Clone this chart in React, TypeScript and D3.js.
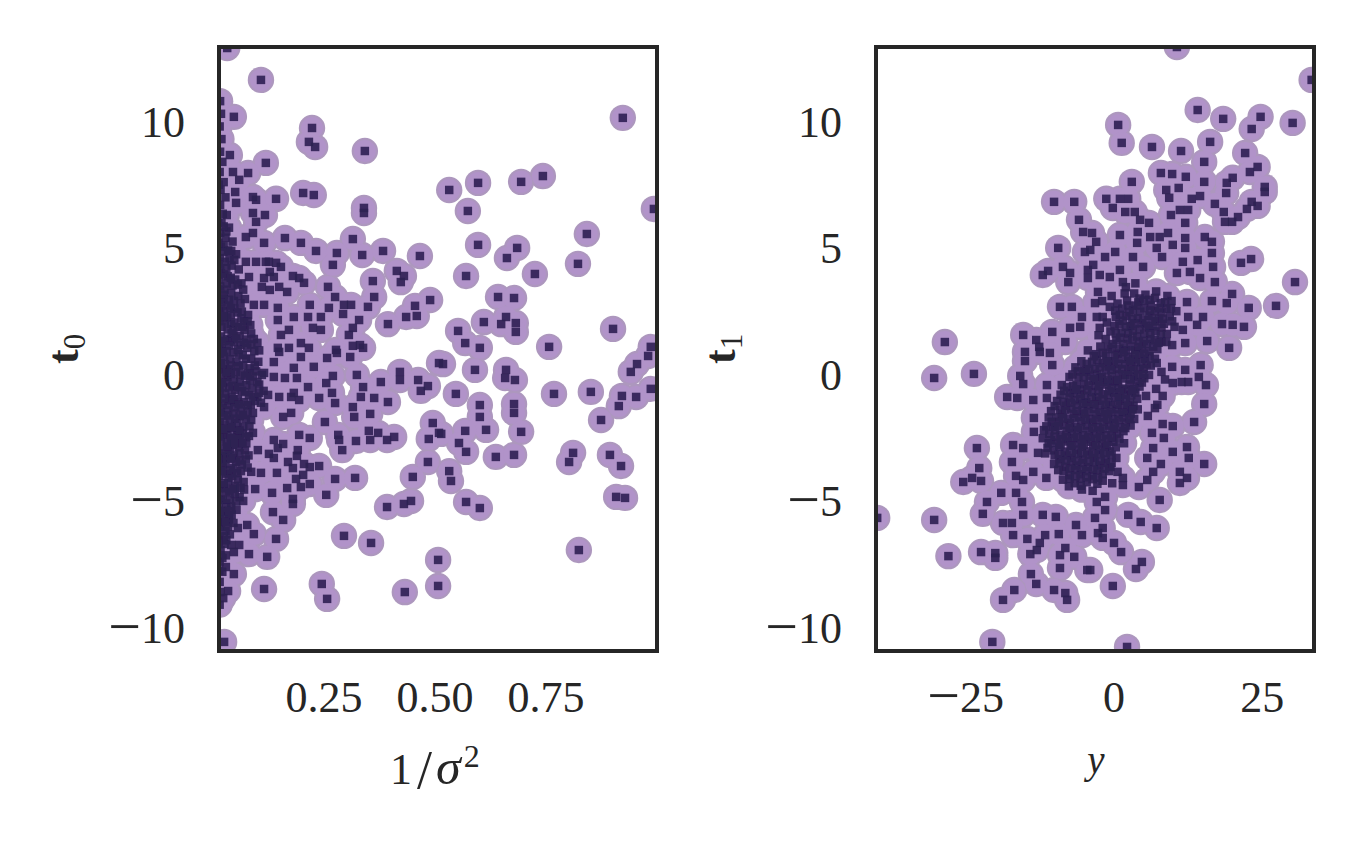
import React from 'react'
import * as d3 from 'd3'

const width = 1361
const height = 841

// left panel, 1/sigma^2 against t0, points that can be read one by one
const precisionUpper: [number, number][] = [
  [.032, 13.0], [.108, 11.74], [.047, 10.28], [.223, 9.84], [.216, 9.29], [.23, 9.09], [.342, 8.93], [.038, 8.77], [.119, 8.46], [.045, 8.1],
  [.059, 7.79], [.079, 8.06], [.05, 7.31], [.052, 6.88], [.09, 7.11], [.097, 7.0], [.142, 7.04], [.203, 7.27], [.227, 7.19], [.34, 6.68],
  [.34, 6.48], [.09, 6.48], [.117, 6.4], [.097, 6.13], [.09, 5.69], [.074, 5.53], [.115, 5.3], [.162, 5.49], [.198, 5.3], [.232, 4.98],
  [.279, 4.9], [.27, 4.43], [.315, 5.45], [.336, 4.82], [.383, 4.98], [.466, 4.78], [.414, 4.19], [.43, 3.99], [.423, 3.75], [.36, 3.79],
  [.363, 3.16], [.259, 3.56], [.275, 3.16], [.489, 3.04], [.455, 2.81], [.435, 2.37], [.459, 2.41], [.394, 2.09], [.349, 2.77], [.295, 2.85],
  [.311, 2.85], [.261, 2.73], [.293, 2.49], [.243, 2.37], [.218, 2.85], [.214, 2.37], [.182, 2.37], [.146, 2.73], [.146, 2.25], [.115, 2.85],
  [.092, 2.85], [.074, 4.55], [.097, 4.55], [.119, 4.55], [.126, 4.55], [.142, 4.51], [.153, 4.35], [.081, 3.95], [.128, 4.15], [.115, 3.91],
  [.137, 3.95], [.18, 3.99], [.194, 3.91], [.205, 3.72], [.11, 3.56], [.128, 3.44], [.149, 3.56], [.167, 3.36], [.329, 2.25], [.315, 1.94],
  [.306, 1.66], [.243, 1.86], [.225, 1.94], [.171, 1.86], [.153, 1.66], [.198, 1.34], [.331, 1.26], [.315, 1.23], [.277, 1.07], [.216, 1.15],
  [.146, 1.15], [.171, 1.15],
]

const precisionMiddle: [number, number][] = [
  [.198, .79], [.257, .75], [.279, .95], [.309, .79], [.338, 1.15], [.115, .16], [.137, 0], [.137, .59], [.149, .99], [.182, .36],
  [.189, -.04], [.162, -.04], [.227, .4], [.27, .04], [.324, .08], [.255, -.24], [.214, -.4], [.268, -.63], [.378, -.2], [.421, .2],
  [.421, -.12], [.462, -.12], [.484, -.36], [.468, -.55], [.509, .55], [.338, -.4], [.333, -.79], [.363, -.83], [.394, -.99], [.315, -1.19],
  [.318, -1.58], [.354, -1.46], [.275, -1.03], [.239, -.83], [.104, -.63], [.124, -.71], [.149, -.79], [.176, -.79], [.194, -.91], [.182, -.63],
  [.115, -1.19], [.09, -1.42], [.176, -1.42], [.158, -1.58], [.252, -1.78], [.495, -1.82], [.509, -2.21], [.486, -2.45], [.351, -2.13], [.372, -2.21],
  [.354, -2.49], [.392, -2.49], [.408, -2.37], [.322, -2.53], [.282, -2.29], [.284, -2.49], [.291, -2.89], [.194, -2.29], [.218, -2.41], [.09, -2.21],
  [.137, -2.49], [.158, -2.65], [.146, -2.81], [.191, -2.89], [.189, -3.12], [.101, -2.89], [.126, -3.04], [.137, -3.2], [.169, -3.36], [.18, -3.6],
  [.205, -3.44], [.218, -3.56], [.239, -3.52], [.275, -4.03], [.32, -3.99], [.484, -3.36], [.45, -3.95], [.203, -3.87], [.187, -4.03], [.218, -4.23],
  [.198, -4.35], [.167, -4.39], [.144, -3.79], [.108, -3.79], [.086, -3.75], [.095, -4.43], [.133, -4.58], [.255, -4.66], [.18, -4.82], [.18, -5.02],
  [.068, -4.9], [.135, -5.34], [.158, -5.65], [.392, -5.14], [.43, -5.02], [.446, -4.9], [.077, -5.85], [.056, -5.97], [.092, -6.21], [.142, -6.4],
  [.059, -6.64], [.041, -6.64], [.081, -7.0], [.122, -7.11], [.047, -6.92], [.295, -6.28], [.356, -6.56], [.507, -7.23], [.507, -8.26], [.245, -8.18],
  [.257, -8.77], [.432, -8.5], [.115, -8.38], [.047, -7.79], [.034, -8.46], [.029, -7.51], [.023, -8.74], [.025, -10.47],
]

const precisionRight: [number, number][] = [
  [.923, 10.24], [.743, 7.94], [.694, 7.71], [.597, 7.67], [.532, 7.39], [.574, 6.56], [.993, 6.64], [.842, 5.65], [.597, 5.22], [.685, 5.1],
  [.662, 4.7], [.822, 4.47], [.725, 4.07], [.57, 3.99], [.642, 3.16], [.678, 3.12], [.61, 2.17], [.66, 2.37], [.649, 2.09], [.682, 2.13],
  [.682, 1.78], [.901, 1.9], [.552, 1.82], [.568, 1.34], [.601, 1.15], [.757, 1.19], [.986, 1.19], [.518, .51], [.59, .28], [.66, .28],
  [.658, -.04], [.68, -.12], [.768, -.67], [.851, -.59], [.547, -.67], [.601, -1.11], [.601, -1.58], [.678, -1.07], [.678, -1.42], [.694, -2.17],
  [.615, -2.09], [.568, -2.13], [.514, -2.25], [.554, -2.61], [.57, -2.96], [.637, -3.16], [.678, -3.08], [.532, -3.72], [.536, -4.11], [.57, -4.94],
  [.601, -5.18], [.811, -3.0], [.802, -3.36], [.894, -3.08], [.919, -3.52], [.908, -4.74], [.928, -4.78], [.824, -6.84], [.874, -1.7], [.914, -1.15],
  [.921, -.75], [.953, -.79], [.986, -.47], [.941, .2], [.955, .51], [.98, .83],
]

// the dark band against the left spine, estimated
const precisionBand: [number, number][] = [
  [.016, 10.9], [.018, 10.4], [.015, 9.9], [.019, 9.4], [.016, 8.9], [.021, 8.5], [.015, 8.1], [.024, 7.7], [.017, 7.4], [.028, 7.1],
  [.016, 6.8], [.031, 6.4], [.019, 6.1], [.036, 5.9], [.016, 5.7], [.028, 5.5], [.044, 5.35], [.018, 5.15], [.034, 5.0], [.052, 4.85],
  [.016, 4.7], [.027, 4.55], [.042, 4.4], [.058, 4.25], [.018, 4.1], [.033, 3.98], [.05, 3.85], [.064, 3.7], [.016, 3.58], [.026, 3.45],
  [.041, 3.32], [.057, 3.2], [.072, 3.08], [.019, 2.95], [.033, 2.82], [.048, 2.7], [.065, 2.58], [.079, 2.45], [.015, 2.32], [.027, 2.2],
  [.04, 2.1], [.056, 1.98], [.071, 1.85], [.086, 1.72], [.018, 1.6], [.032, 1.5], [.047, 1.38], [.062, 1.26], [.077, 1.15], [.093, 1.02],
  [.015, .92], [.025, .8], [.039, .7], [.053, .58], [.068, .46], [.083, .34], [.097, .22], [.019, .12], [.033, 0], [.047, -.1],
  [.061, -.2], [.075, -.32], [.089, -.44], [.104, -.3], [.015, -.55], [.028, -.65], [.042, -.77], [.056, -.88], [.07, -.99], [.085, -1.1],
  [.018, -1.22], [.032, -1.32], [.046, -1.44], [.06, -1.55], [.074, -1.66], [.015, -1.78], [.026, -1.88], [.04, -2.0], [.053, -2.1], [.067, -2.22],
  [.081, -2.33], [.018, -2.45], [.031, -2.56], [.045, -2.68], [.058, -2.78], [.072, -2.9], [.015, -3.02], [.026, -3.12], [.039, -3.24], [.052, -3.35],
  [.065, -3.46], [.078, -3.58], [.018, -3.7], [.03, -3.82], [.043, -3.92], [.056, -4.05], [.069, -4.15], [.015, -4.28], [.025, -4.4], [.037, -4.52],
  [.049, -4.63], [.06, -4.75], [.018, -4.86], [.03, -5.0], [.041, -5.12], [.053, -5.25], [.015, -5.38], [.025, -5.5], [.036, -5.63], [.046, -5.77],
  [.017, -5.92], [.028, -6.08], [.038, -6.22], [.015, -6.42], [.026, -6.6], [.017, -6.85], [.029, -7.05], [.015, -7.3], [.021, -7.7], [.015, -8.1],
  [.017, -8.5], [.015, -9.0], [.016, 4.25], [.024, 3.1], [.02, 1.15], [.013, .4], [.024, .3], [.036, -.42], [.022, -1.05], [.035, -1.1],
  [.024, -2.25], [.034, -3.0], [.022, -3.45], [.034, -4.2], [.022, -4.85], [.02, -5.7], [.047, 3.0], [.04, 1.45], [.058, .9], [.072, .05],
  [.048, -1.0], [.06, -2.45], [.047, -3.1], [.03, 5.75], [.022, 6.45], [.013, 7.6], [.024, 2.6], [.014, 1.3], [.03, -.2], [.014, -2.1],
]

const precisionBandExtra: [number, number][] = [
  [.024, 5.2], [.037, 4.7], [.025, 4.05], [.044, 3.62], [.031, 3.7], [.056, 3.65], [.013, 3.05], [.04, 2.72], [.055, 2.55], [.032, 2.35],
  [.07, 2.2], [.048, 2.15], [.084, 2.05], [.019, 1.98], [.033, 1.88], [.06, 1.62], [.075, 1.48], [.1, 1.35], [.046, .98], [.031, 1.02],
  [.067, .86], [.086, .72], [.102, .6], [.018, .55], [.052, .2], [.036, .3], [.078, .15], [.11, .08], [.013, -.2], [.065, -.55],
  [.049, -.52], [.022, -.4], [.081, -.72], [.1, -.78], [.114, -.55], [.036, -.92], [.063, -1.22], [.05, -1.2], [.078, -1.36], [.094, -.95],
  [.024, -1.55], [.038, -1.68], [.086, -1.7], [.055, -1.82], [.015, -2.35], [.068, -1.98], [.033, -2.28], [.049, -2.4], [.075, -2.62], [.02, -2.78],
  [.038, -2.85], [.06, -3.02], [.08, -3.1], [.028, -3.45], [.046, -3.6], [.063, -3.72], [.014, -3.9], [.035, -3.98], [.05, -4.3], [.024, -4.2],
  [.07, -4.45], [.038, -4.85], [.052, -4.92], [.013, -5.1], [.028, -5.3], [.042, -5.45], [.018, -5.85], [.034, -5.92], [.024, -6.3], [.013, -6.6],
  [.021, -7.15], [.014, -7.65], [.016, 2.7], [.042, 1.72], [.027, .5], [.04, .12], [.011, -.9], [.03, -2.05], [.056, -2.3], [.02, -3.2],
]

const precisionBandFill: [number, number][] = [
  [.023, 4.95], [.041, 4.98], [.03, 4.3], [.048, 4.62], [.013, 3.85], [.04, 3.92], [.068, 3.45], [.023, 3.25], [.036, 3.05], [.062, 2.9],
  [.012, 2.6], [.04, 2.45], [.064, 2.32], [.024, 2.4], [.078, 2.2], [.046, 1.82], [.066, 1.98], [.052, 1.52], [.092, 1.5], [.026, 1.42],
  [.07, 1.35], [.036, 1.25], [.086, 1.28], [.056, 1.08], [.104, 1.05], [.022, .98], [.074, .72], [.04, .45], [.058, .42], [.094, .45],
  [.03, .18], [.062, .1], [.09, .02], [.02, -.22], [.044, -.35], [.056, -.4], [.083, -.12], [.1, -.2], [.072, -.6], [.09, -.78],
  [.026, -.85], [.046, -.88], [.108, -1.02], [.058, -1.08], [.078, -1.12], [.034, -1.52], [.016, -1.4], [.05, -1.65], [.067, -1.5], [.082, -1.95],
  [.042, -1.98], [.06, -2.12], [.022, -2.05], [.074, -2.38], [.04, -2.42], [.032, -2.75], [.05, -2.62], [.066, -2.62], [.012, -3.25], [.044, -3.2],
  [.06, -3.3], [.074, -3.26], [.022, -3.72], [.04, -3.68], [.054, -3.8], [.012, -4.55], [.03, -4.55], [.046, -4.42], [.062, -4.38], [.02, -5.3],
  [.036, -5.3], [.012, -5.75], [.028, -5.72], [.01, -6.25], [.03, -6.45], [.01, -7.05], [.011, 6.1], [.024, 5.95], [.012, 5.3], [.013, 4.45],
]

// right panel, y against t1
const targetUpper: [number, number][] = [
  [-10.1, 6.92], [-6.7, 6.92], [-5.9, 6.21], [-5.2, 5.73], [-3.7, 5.69], [-3.0, 5.34], [-9.4, 5.1], [-4.9, 4.94], [-4.0, 5.02], [-11.1, 4.19],
  [-12.0, 4.03], [-8.6, 4.35], [-7.4, 4.11], [-7.7, 3.75], [-4.4, 4.23], [-4.4, 3.91], [-9.1, 2.77], [-7.1, 2.77], [-5.4, 2.37], [-15.3, 1.66],
  [-13.1, 1.46], [-10.4, 1.78], [-12.6, 1.19], [-28.5, 1.38], [-7.4, 1.94], [-5.7, 1.98], [-8.2, 1.38], [-3.2, 2.92], [-2.9, 2.37], [10.6, 13.04],
  [33.3, 11.74], [14.1, 10.55], [18.4, 10.2], [24.7, 10.28], [23.2, 9.8], [30.1, 10.04], [.7, 9.96], [1.3, 9.25], [6.4, 9.09], [11.3, 8.93],
  [16.2, 9.29], [15.2, 8.5], [22.1, 8.85], [24.2, 8.3], [22.9, 8.1], [7.9, 8.06], [9.8, 8.02], [12.1, 7.91], [15.2, 7.71], [3.0, 7.71],
  [10.9, 7.47], [8.8, 7.39], [9.3, 7.08], [20.0, 7.87], [19.0, 7.67], [18.9, 7.27], [25.4, 7.51], [25.4, 7.31], [14.5, 7.15], [13.1, 7.04],
  [17.0, 6.84], [23.2, 6.92], [24.2, 6.76], [22.4, 6.64], [18.5, 6.52], [20.9, 6.32], [18.7, 6.13], [19.9, 6.13], [-1.3, 7.04], [1.0, 7.04],
  [2.4, 7.04], [-.2, 6.68], [1.9, 6.52], [3.5, 6.52], [4.4, 6.21], [5.9, 6.09], [9.6, 6.4], [11.1, 6.6], [12.5, 6.6], [12.0, 6.09],
  [1.0, 5.61], [4.0, 5.73], [6.1, 5.53], [9.1, 5.69], [7.7, 5.53], [12.0, 5.49], [15.3, 5.53], [16.5, 5.34], [9.9, 5.22], [12.0, 5.1],
  [7.2, 5.1], [3.9, 5.3], [.2, 4.94], [-1.5, 4.74], [3.2, 4.74], [8.1, 4.74], [16.5, 4.9], [14.1, 4.62], [11.6, 4.55], [16.7, 4.35],
  [21.4, 4.51], [23.1, 4.66], [-3.5, 4.43], [1.0, 4.23], [4.9, 4.35], [10.6, 4.11], [12.8, 4.15], [14.5, 3.91], [17.0, 3.75], [-2.4, 4.03],
  [-.7, 3.95], [-2.7, 3.36], [1.5, 3.75], [30.5, 3.75], [19.9, 3.28], [19.0, 2.92], [16.5, 3.0], [22.7, 2.73], [27.3, 2.81], [12.3, 2.96],
  [15.0, 2.37], [18.2, 2.09], [20.0, 2.06], [21.9, 1.98], [15.7, 1.42], [19.4, 1.15], [12.5, 2.37], [14.0, 2.06], [11.6, 1.86], [9.8, 1.26],
  [12.0, 1.34], [-.7, 2.77], [-1.9, 2.37], [-2.4, 1.94],
]

const targetLower: [number, number][] = [
  [7.2, .55], [12.0, .28], [14.6, .47], [9.8, .4], [14.3, 0], [15.5, -.32], [9.9, -.24], [11.4, -.2], [12.5, -.2], [7.1, -.47],
  [8.2, -.75], [5.4, -.75], [15.2, -1.07], [6.9, -1.23], [5.7, -1.54], [13.5, -1.78], [8.2, -1.86], [9.9, -1.94], [6.4, -2.21], [8.4, -2.41],
  [6.6, -2.81], [9.9, -2.96], [12.3, -2.77], [12.6, -3.2], [15.2, -3.44], [5.6, -3.2], [7.9, -3.44], [6.6, -3.75], [5.6, -4.07], [11.1, -3.75],
  [12.3, -3.99], [11.1, -4.19], [4.2, -4.35], [1.5, -4.27], [1.5, -3.99], [7.7, -4.86], [-1.5, -4.74], [-1.5, -5.26], [2.4, -5.45], [4.5, -5.73],
  [7.2, -5.97], [-1.9, -5.97], [-1.9, -6.36], [0, -6.56], [1.2, -6.92], [4.7, -7.31], [3.7, -7.59], [-.2, -8.26], [2.2, -10.67], [-4.0, -7.63],
  [-3.2, -5.57], [-2.9, -4.94], [-30.3, -.04], [-23.6, .12], [-15.0, .99], [-15.0, .63], [-15.8, .04], [-15.3, -.28], [-18.0, -.79], [-16.3, -.83],
  [-13.6, -.91], [-12.5, .99], [-10.8, .95], [-10.4, .47], [-8.8, -.32], [-11.3, -.32], [-11.3, -.83], [-13.5, -1.62], [-13.5, -2.17], [-17.0, -2.69],
  [-15.3, -2.81], [-12.8, -3.0], [-23.1, -2.81], [-17.2, -3.36], [-22.7, -3.6], [-25.4, -4.15], [-23.9, -3.99], [-22.4, -4.11], [-16.5, -3.91], [-15.3, -4.07],
  [-13.6, -3.75], [-11.4, -3.99], [-19.0, -4.58], [-16.5, -4.58], [-21.4, -4.94], [-22.1, -5.41], [-15.5, -4.94], [-15.3, -5.45], [-12.0, -5.45], [-9.8, -5.53],
  [-18.7, -5.77], [-17.2, -5.77], [-17.0, -6.25], [-14.6, -6.4], [-11.6, -6.25], [-12.5, -6.56], [-9.3, -6.21], [-6.4, -5.85], [-5.4, -6.25], [-2.7, -6.17],
  [-14.1, -7.0], [-13.0, -6.84], [-9.1, -7.04], [-8.2, -6.76], [-6.7, -7.11], [-9.1, -7.55], [-4.5, -7.63], [-14.0, -7.79], [-13.1, -8.18], [-16.8, -8.42],
  [-18.7, -8.81], [-10.1, -8.42], [-8.2, -8.54], [-7.9, -8.81], [-20.5, -10.47], [-30.3, -5.65], [-27.9, -7.08], [-22.4, -6.92], [-20.0, -6.96], [-20.0, -7.15],
  [-39.9, -5.57],
]

// the dark diagonal core of the right panel, estimated
const targetCore: [number, number][] = [
  [3.4, 3.3], [5.3, 3.25], [7.1, 3.38], [9.0, 3.2], [2.2, 3.02], [4.1, 2.95], [6.0, 3.05], [7.9, 2.92], [9.7, 3.0], [1.4, 2.7],
  [3.2, 2.65], [5.1, 2.72], [6.9, 2.6], [8.8, 2.7], [10.5, 2.6], [.3, 2.38], [2.1, 2.4], [4.0, 2.32], [5.8, 2.42], [7.6, 2.3],
  [9.4, 2.4], [.9, 2.08], [2.8, 2.02], [4.7, 2.12], [6.6, 2.0], [8.4, 2.1], [10.2, 1.98], [-.6, 1.8], [1.3, 1.75], [3.2, 1.82],
  [5.1, 1.7], [7.0, 1.8], [8.9, 1.7], [-1.4, 1.5], [.4, 1.45], [2.3, 1.52], [4.2, 1.4], [6.1, 1.5], [8.0, 1.4], [-1.0, 1.18],
  [.9, 1.12], [2.8, 1.2], [4.7, 1.1], [6.6, 1.2], [-3.0, .9], [-1.3, .85], [.6, .92], [2.4, .8], [4.3, .9], [6.0, .82],
  [-3.7, .6], [-1.9, .55], [0, .62], [1.9, .5], [3.7, .6], [5.5, .5], [-5.1, .3], [-3.2, .32], [-1.4, .25], [.5, .32],
  [2.4, .2], [4.3, .3], [-6.0, 0], [-4.1, .05], [-2.3, -.03], [-.4, .04], [1.5, -.06], [3.4, .02], [5.1, -.05], [-6.9, -.35],
  [-5.0, -.28], [-3.1, -.36], [-1.2, -.3], [.7, -.38], [2.6, -.3], [4.3, -.38], [-7.4, -.62], [-5.6, -.68], [-3.7, -.6], [-1.9, -.68],
  [0, -.62], [1.8, -.7], [3.6, -.62], [-8.5, -.98], [-6.6, -.92], [-4.7, -1.0], [-2.8, -.94], [-.9, -1.0], [1.0, -.94], [2.7, -1.02],
  [-9.1, -1.3], [-7.2, -1.25], [-5.3, -1.32], [-3.4, -1.26], [-1.5, -1.33], [.4, -1.28], [2.2, -1.34], [4.0, -1.28], [-9.7, -1.6], [-7.8, -1.66],
  [-5.9, -1.58], [-4.0, -1.66], [-2.1, -1.6], [-.2, -1.66], [1.6, -1.6], [3.4, -1.66], [-10.3, -1.96], [-8.4, -1.9], [-6.5, -1.98], [-4.6, -1.92],
  [-2.7, -1.98], [-.8, -1.92], [1.0, -1.98], [2.8, -1.92], [-10.9, -2.25], [-9.0, -2.3], [-7.1, -2.24], [-5.2, -2.3], [-3.3, -2.24], [-1.4, -2.3],
  [.5, -2.24], [-9.6, -2.6], [-7.7, -2.55], [-5.8, -2.62], [-3.9, -2.56], [-2.0, -2.62], [-.1, -2.56], [1.7, -2.62], [-10.2, -2.9], [-8.3, -2.95],
  [-6.4, -2.88], [-4.5, -2.94], [-2.6, -2.88], [-.7, -2.94], [-9.0, -3.25], [-7.1, -3.2], [-5.2, -3.26], [-3.3, -3.2], [-1.4, -3.26], [.4, -3.2],
  [-8.2, -3.55], [-6.3, -3.5], [-4.4, -3.56], [-2.5, -3.5], [-.6, -3.56], [-7.5, -3.88], [-5.6, -3.84], [-3.7, -3.9], [-1.9, -3.84], [-6.6, -4.2],
  [-4.6, -4.16], [-2.8, -4.22], [2.0, 3.55], [3.6, 3.7], [-2.0, 3.0], [-.4, 3.2], [1.8, 3.3], [8.6, -.1], [8.0, .2], [7.3, -1.1],
]

const targetCoreExtra: [number, number][] = [
  [4.3, 3.1], [6.2, 2.82], [2.4, 2.82], [.6, 2.9], [8.0, 2.55], [3.1, 2.3], [5.0, 2.25], [7.0, 2.2], [1.0, 2.45], [-1.2, 2.15],
  [2.0, 1.98], [3.9, 1.6], [5.9, 1.95], [8.0, 1.95], [.3, 1.72], [-2.6, 1.65], [1.6, 1.3], [3.5, 1.05], [5.5, 1.3], [7.3, 1.1],
  [-.4, 1.1], [-2.3, 1.2], [-4.4, 1.05], [1.4, .72], [3.2, .7], [5.2, .72], [-.8, .62], [-2.8, .68], [-4.6, .52], [-6.5, .38],
  [.9, .1], [2.9, .4], [4.9, .12], [-.9, .42], [-2.8, .12], [-4.7, .2], [-7.5, 0], [.1, -.2], [2.0, -.5], [3.9, -.2],
  [-1.8, -.2], [-3.6, -.15], [-5.5, -.5], [-7.9, -.4], [.8, -.8], [2.9, -.72], [-1.0, -.72], [-3.0, -.8], [-4.9, -.75], [-6.8, -.65],
  [-9.0, -.7], [1.4, -1.15], [3.3, -1.14], [-.5, -1.12], [-2.4, -1.15], [-4.3, -1.12], [-6.2, -1.1], [-8.1, -1.14], [-10.0, -1.15], [.8, -1.48],
  [2.8, -1.45], [-1.0, -1.46], [-3.0, -1.48], [-5.0, -1.45], [-6.8, -1.46], [-8.8, -1.46], [-11.0, -1.6], [.1, -1.82], [2.0, -1.8], [-1.7, -1.78],
  [-3.6, -1.8], [-5.5, -1.76], [-7.4, -1.82], [-9.3, -1.78], [-.4, -2.12], [1.6, -2.14], [-2.3, -2.12], [-4.2, -2.14], [-6.1, -2.1], [-8.0, -2.14],
  [-9.9, -2.1], [-11.8, -2.1], [-1.0, -2.46], [.9, -2.44], [-2.9, -2.44], [-4.8, -2.46], [-6.7, -2.42], [-8.6, -2.46], [-10.6, -2.5], [-1.5, -2.76],
  [.3, -2.78], [-3.5, -2.74], [-5.4, -2.76], [-7.3, -2.72], [-9.2, -2.76], [-11.2, -2.8], [-.4, -3.08], [-2.3, -3.06], [-4.2, -3.08], [-6.1, -3.05],
  [-8.0, -3.1], [-10.0, -3.1], [-1.5, -3.4], [-3.4, -3.38], [-5.3, -3.4], [-7.2, -3.36], [-9.2, -3.4], [-.8, -3.72], [-2.8, -3.7], [-4.7, -3.72],
  [-6.6, -3.68], [-8.5, -3.72], [-3.6, -4.04], [-5.6, -4.02], [-7.5, -4.02], [-1.9, -4.1], [.6, -3.75], [-.3, -4.2], [-5.4, -4.45], [-3.6, -4.5],
]

const targetCoreFill: [number, number][] = [
  [5.0, 3.02], [6.9, 3.12], [8.6, 2.95], [3.7, 2.82], [.2, 2.62], [2.6, 2.56], [4.4, 2.58], [6.1, 2.62], [7.6, 2.72], [9.6, 2.72],
  [1.5, 2.22], [3.4, 2.12], [5.4, 2.02], [6.4, 2.3], [8.2, 2.3], [9.8, 2.2], [.1, 2.02], [2.4, 1.72], [4.3, 1.88], [6.1, 1.72],
  [7.9, 1.68], [1.0, 1.55], [3.1, 1.48], [5.0, 1.42], [6.9, 1.45], [8.8, 1.38], [-.2, 1.3], [2.0, 1.05], [4.1, 1.18], [5.9, 1.02],
  [7.5, 1.35], [-1.9, .95], [.1, .85], [1.6, .98], [3.6, .88], [5.1, .92], [6.9, .72], [-3.4, .82], [-1.2, .62], [.7, .52],
  [2.7, .62], [4.6, .58], [6.2, .45], [-5.5, .62], [-2.4, .38], [-.4, .28], [1.4, .3], [3.3, .28], [5.0, .32], [-6.1, .22],
  [-4.2, .3], [-2.0, 0], [-.2, -.14], [1.9, .08], [4.0, .1], [5.9, .08], [-7.0, .1], [-5.1, -.02], [-3.3, -.08], [-1.1, -.1],
  [.6, -.12], [2.8, -.1], [4.7, -.22], [-6.3, -.32], [-4.3, -.34], [-2.5, -.36], [-.4, -.45], [1.4, -.46], [3.4, -.48], [-8.4, -.55],
  [-6.4, -.5], [-4.5, -.52], [-2.6, -.55], [-.8, -.56], [1.0, -.6], [3.0, -.55], [-7.6, -.82], [-5.7, -.86], [-3.8, -.85], [-1.8, -.88],
  [.2, -.82], [2.0, -.86], [3.9, -.86], [-9.6, -.95], [-7.3, -1.02], [-5.2, -1.06], [-3.3, -1.08], [-1.4, -1.1], [.6, -1.1], [2.3, -1.14],
  [-10.6, -1.35], [-8.2, -1.32], [-6.3, -1.36], [-4.4, -1.38], [-2.4, -1.4], [-.5, -1.38], [1.5, -1.4], [3.1, -1.28], [-10.5, -1.78], [-8.6, -1.62],
  [-6.7, -1.64], [-4.8, -1.68], [-3.0, -1.7], [-1.1, -1.68], [.8, -1.7], [2.6, -1.66], [-11.4, -1.95], [-9.4, -1.95], [-7.5, -2.02], [-5.6, -2.02],
  [-3.6, -2.02], [-1.8, -2.04], [0, -2.04], [1.9, -2.02], [-12.0, -2.42], [-10.0, -2.36], [-8.1, -2.38], [-6.2, -2.38], [-4.3, -2.38], [-2.4, -2.38],
  [-.4, -2.4], [-11.0, -2.62], [-9.0, -2.68], [-7.1, -2.7], [-5.1, -2.68], [-3.1, -2.7], [-1.2, -2.72], [-11.6, -3.02], [-9.3, -3.06], [-7.4, -3.02],
  [-5.5, -3.02], [-3.6, -3.04], [-1.7, -3.0], [-10.1, -3.44], [-8.1, -3.3], [-6.2, -3.32], [-4.2, -3.34], [-2.3, -3.34], [-.4, -3.4], [-9.4, -3.68],
  [-7.4, -3.62], [-5.4, -3.66], [-3.5, -3.66], [-1.6, -3.62], [-8.6, -4.06], [-6.5, -3.92], [-4.6, -3.96], [-2.7, -3.98], [-7.6, -4.32], [-5.6, -4.3],
]

const xTicksLeft = [0.25, 0.5, 0.75]
const xTicksRight = [-25, 0, 25]
const yTicks = [-10, -5, 0, 5, 10]

const tickFont = 44
const serif = '"Liberation Serif", serif'
const ink = '#262626'

const square = d3.symbol().type(d3.symbolSquare).size(72)()

// the reference has a long, thin minus, wider than the font's own
const TickLabel = ({ value }: { value: string }) => {
  if (!value.startsWith('-')) return <>{value}</>
  return (
    <>
      <tspan fontSize={58} dy={3}>{'\u2212'}</tspan>
      <tspan dy={-3}>{value.slice(1)}</tspan>
    </>
  )
}

type PanelProps = {
  id: string
  left: number
  right: number
  xDomain: [number, number]
  xTicks: number[]
  points: [number, number][]
  xFormat: (v: number) => string
}

const Panel = ({ id, left, right, xDomain, xTicks, points, xFormat }: PanelProps) => {
  const top = 47
  const bottom = 651
  const x = d3.scaleLinear().domain(xDomain).range([left, right])
  const y = d3.scaleLinear().domain([13.04, -10.83]).range([top, bottom])

  return (
    <g fontFamily={serif} fontSize={tickFont} fill={ink}>
      <clipPath id={id}>
        <rect x={left} y={top} width={right - left} height={bottom - top} />
      </clipPath>
      <g clipPath={`url(#${id})`}>
        <g filter="url(#soft)">
          {points.map((d, i) => (
            <circle key={i} cx={x(d[0])} cy={y(d[1])} r={13.2} fill="#ad97be" />
          ))}
          {points.map((d, i) => (
            <circle key={i} cx={x(d[0])} cy={y(d[1])} r={11} fill="#b193c9" />
          ))}
          {points.map((d, i) => (
            <path
              key={i}
              d={square as string}
              transform={`translate(${x(d[0])},${y(d[1])})`}
              fill="#2e2052"
              fillOpacity={0.9}
            />
          ))}
        </g>
      </g>
      <rect x={left} y={top} width={right - left} height={bottom - top} fill="none" stroke={ink} strokeWidth={4} />
      {xTicks.map((t) => (
        <text key={t} x={x(t)} y={712} textAnchor="middle">
          <TickLabel value={xFormat(t)} />
        </text>
      ))}
      {yTicks.map((t) => (
        <text key={t} x={left - 34} y={y(t) + 13} textAnchor="end">
          <TickLabel value={String(t)} />
        </text>
      ))}
    </g>
  )
}

const App = () => {
  return (
    <svg
      width={width}
      height={height}
      viewBox={`0 0 ${width} ${height}`}
      style={{ position: 'absolute', left: 0, top: 0, display: 'block', background: '#fff' }}
    >
      <defs>
        <filter id="soft" x="-5%" y="-5%" width="110%" height="110%">
          <feGaussianBlur stdDeviation="0.6" />
        </filter>
      </defs>
      <Panel
        id="clip-left"
        left={219}
        right={657}
        xDomain={[0.0135, 1]}
        xTicks={xTicksLeft}
        points={[...precisionBand, ...precisionBandExtra, ...precisionBandFill, ...precisionUpper, ...precisionMiddle, ...precisionRight]}
        xFormat={(v) => v.toFixed(2)}
      />
      <Panel
        id="clip-right"
        left={876}
        right={1314}
        xDomain={[-40.1, 33.7]}
        xTicks={xTicksRight}
        points={[...targetCore, ...targetCoreExtra, ...targetCoreFill, ...targetUpper, ...targetLower]}
        xFormat={String}
      />
      <g fontFamily={serif} fontSize={tickFont} fill={ink}>
        <text x={390} y={784}>
          1
          <tspan dx={5} fontSize={54} dy={4}>/</tspan>
          <tspan dx={4} dy={-4} fontSize={50} fontStyle="italic">σ</tspan>
          <tspan dx={3} dy={-17} fontSize={32}>2</tspan>
        </text>
        <text x={1096} y={773} textAnchor="middle" fontStyle="italic" fontSize={39}>y</text>
        <text transform="translate(78,364) rotate(-90)">
          <tspan fontWeight="bold">t</tspan>
          <tspan dy={7} fontSize={31}>0</tspan>
        </text>
        <text transform="translate(735,364) rotate(-90)">
          <tspan fontWeight="bold">t</tspan>
          <tspan dy={7} fontSize={31}>1</tspan>
        </text>
      </g>
    </svg>
  )
}

export default App
